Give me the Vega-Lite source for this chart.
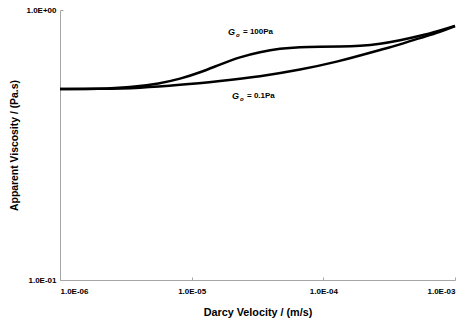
{
  "$schema": "https://vega.github.io/schema/vega-lite/v6.json",
  "width": 395,
  "height": 270,
  "autosize": "none",
  "padding": {"left": 60, "top": 10, "right": 20, "bottom": 45},
  "background": "white",
  "config": {"view": {"stroke": null}, "font": "Liberation Sans"},
  "datasets": {
    "curves": [
      {"series": "100Pa", "v": 1.0e-6, "mu": 0.5098},
      {"series": "100Pa", "v": 2.011e-6, "mu": 0.5098},
      {"series": "100Pa", "v": 3.40e-6, "mu": 0.5164},
      {"series": "100Pa", "v": 5.75e-6, "mu": 0.5343},
      {"series": "100Pa", "v": 8.15e-6, "mu": 0.5553},
      {"series": "100Pa", "v": 1.157e-5, "mu": 0.5869},
      {"series": "100Pa", "v": 1.641e-5, "mu": 0.6283},
      {"series": "100Pa", "v": 2.329e-5, "mu": 0.6699},
      {"series": "100Pa", "v": 3.30e-5, "mu": 0.6989},
      {"series": "100Pa", "v": 4.69e-5, "mu": 0.7201},
      {"series": "100Pa", "v": 6.65e-5, "mu": 0.7294},
      {"series": "100Pa", "v": 9.43e-5, "mu": 0.7313},
      {"series": "100Pa", "v": 1.338e-4, "mu": 0.7325},
      {"series": "100Pa", "v": 1.899e-4, "mu": 0.7366},
      {"series": "100Pa", "v": 2.694e-4, "mu": 0.7484},
      {"series": "100Pa", "v": 3.82e-4, "mu": 0.7720},
      {"series": "100Pa", "v": 5.42e-4, "mu": 0.8011},
      {"series": "100Pa", "v": 7.69e-4, "mu": 0.8400},
      {"series": "100Pa", "v": 1.0e-3, "mu": 0.8723},
      {"series": "0.1Pa", "v": 1.0e-6, "mu": 0.5098},
      {"series": "0.1Pa", "v": 2.011e-6, "mu": 0.5098},
      {"series": "0.1Pa", "v": 4.05e-6, "mu": 0.5142},
      {"series": "0.1Pa", "v": 8.15e-6, "mu": 0.5275},
      {"series": "0.1Pa", "v": 1.641e-5, "mu": 0.5458},
      {"series": "0.1Pa", "v": 3.30e-5, "mu": 0.5670},
      {"series": "0.1Pa", "v": 6.65e-5, "mu": 0.5995},
      {"series": "0.1Pa", "v": 1.338e-4, "mu": 0.6470},
      {"series": "0.1Pa", "v": 1.899e-4, "mu": 0.6780},
      {"series": "0.1Pa", "v": 2.694e-4, "mu": 0.7110},
      {"series": "0.1Pa", "v": 3.82e-4, "mu": 0.7450},
      {"series": "0.1Pa", "v": 5.42e-4, "mu": 0.7876},
      {"series": "0.1Pa", "v": 7.69e-4, "mu": 0.8290},
      {"series": "0.1Pa", "v": 1.0e-3, "mu": 0.8723}
    ],
    "labels": [
      {"v": 2.21e-5, "mu": 0.829, "rest": "= 100Pa"},
      {"v": 2.37e-5, "mu": 0.480, "rest": "= 0.1Pa"}
    ]
  },
  "encoding": {
    "x": {
      "field": "v", "type": "quantitative",
      "scale": {"type": "log", "domain": [1e-6, 1e-3], "nice": false},
      "axis": {
        "title": "Darcy Velocity / (m/s)",
        "values": [1e-6, 1e-5, 1e-4, 1e-3],
        "labelExpr": "'1.0E-0' + round(-log(datum.value)/LN10)",
        "grid": false, "domainColor": "#a6a6a6", "tickColor": "#a6a6a6", "tickSize": -3,
        "labelFont": "Liberation Sans", "labelFontWeight": "bold", "labelFontSize": 8, "labelColor": "black",
        "labelPadding": 10,
        "titleFont": "Liberation Sans", "titleFontWeight": "bold", "titleFontSize": 10.8, "titleColor": "black",
        "titlePadding": 11
      }
    },
    "y": {
      "field": "mu", "type": "quantitative",
      "scale": {"type": "log", "domain": [0.1, 1], "nice": false},
      "axis": {
        "title": "Apparent Viscosity / (Pa.s)",
        "values": [0.1, 1],
        "labelExpr": "datum.value >= 1 ? '1.0E+00' : '1.0E-01'",
        "grid": false, "domainColor": "#a6a6a6", "tickColor": "#a6a6a6", "tickSize": -3,
        "labelFont": "Liberation Sans", "labelFontWeight": "bold", "labelFontSize": 8, "labelColor": "black",
        "labelPadding": 7,
        "titleFont": "Liberation Sans", "titleFontWeight": "bold", "titleFontSize": 10.4, "titleColor": "black",
        "titlePadding": 6
      }
    }
  },
  "layer": [
    {
      "data": {"name": "curves"},
      "mark": {"type": "line", "color": "black", "strokeWidth": 2.5, "interpolate": "basis"},
      "encoding": {"detail": {"field": "series"}}
    },
    {
      "data": {"name": "labels"},
      "mark": {"type": "text", "text": "G", "align": "right", "baseline": "middle", "font": "Liberation Sans", "fontStyle": "italic", "fontWeight": "bold", "fontSize": 9, "dx": -2, "color": "black"}
    },
    {
      "data": {"name": "labels"},
      "mark": {"type": "text", "text": "o", "align": "left", "baseline": "middle", "font": "Liberation Sans", "fontStyle": "italic", "fontWeight": "bold", "fontSize": 6, "dx": -1, "dy": 3, "color": "black"}
    },
    {
      "data": {"name": "labels"},
      "mark": {"type": "text", "align": "left", "baseline": "middle", "font": "Liberation Sans", "fontWeight": "bold", "fontSize": 8, "dx": 6, "color": "black"},
      "encoding": {"text": {"field": "rest"}}
    }
  ]
}
